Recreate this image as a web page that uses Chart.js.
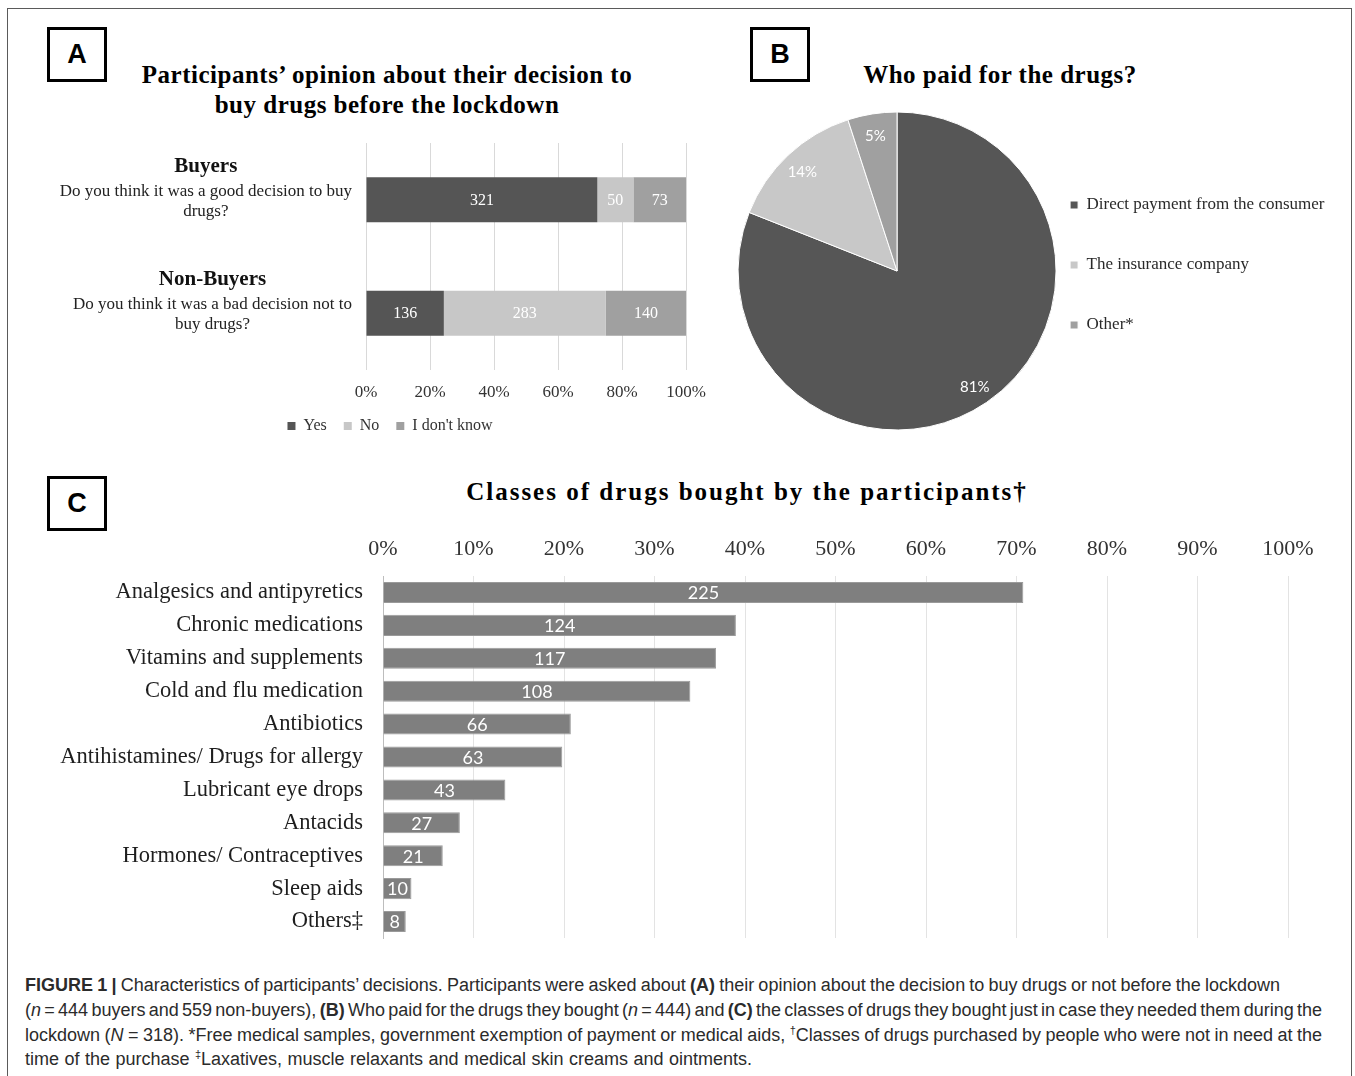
<!DOCTYPE html>
<html>
<head>
<meta charset="utf-8">
<script src="https://cdn.jsdelivr.net/npm/chart.js@4.4.1/dist/chart.umd.min.js"></script>
<style>
html,body{margin:0;padding:0;background:#fff;}
body{width:1355px;height:1076px;position:relative;overflow:hidden;font-family:"Liberation Serif","Times New Roman",serif;}
.frame{position:absolute;left:7px;top:8px;width:1345px;height:1200px;border:1px solid #5a5a5a;box-sizing:border-box;}
.box{position:absolute;width:60px;height:55px;border:3px solid #000;box-sizing:border-box;font:bold 27px "Liberation Sans",Arial,sans-serif;display:flex;align-items:center;justify-content:center;color:#000;}
.title{position:absolute;font-weight:bold;font-size:25px;text-align:center;color:#000;line-height:30px;white-space:nowrap;}
.wrap{position:absolute;}
.cap{position:absolute;left:25px;font:18px "Liberation Sans",Arial,sans-serif;color:#2b2b2b;white-space:nowrap;line-height:24px;}
.cap span.in{display:inline-block;}
sup{font-size:11px;line-height:0;vertical-align:7px;}
</style>
</head>
<body>
<div class="frame"></div>

<div class="box" style="left:47px;top:27px;">A</div>
<div class="box" style="left:750px;top:27px;">B</div>
<div class="box" style="left:47px;top:476px;">C</div>

<div class="title" style="left:137px;width:500px;top:60px;letter-spacing:0.5px;">Participants’ opinion about their decision to<br>buy drugs before the lockdown</div>
<div class="title" style="left:850px;width:300px;top:60px;letter-spacing:0.5px;">Who paid for the drugs?</div>
<div class="title" style="left:447px;width:600px;top:477px;letter-spacing:2px;">Classes of drugs bought by the participants†</div>

<div class="wrap" style="left:0;top:130px;width:720px;height:320px;"><canvas id="cA" width="720" height="320"></canvas></div>
<div class="wrap" style="left:720px;top:100px;width:635px;height:345px;"><canvas id="cB" width="635" height="345"></canvas></div>
<div class="wrap" style="left:0;top:520px;width:1355px;height:430px;"><canvas id="cC" width="1355" height="430"></canvas></div>

<div class="cap" style="top:973px;"><span class="in just" data-w="1255"><b>FIGURE 1 |</b> Characteristics of participants’ decisions. Participants were asked about <b>(A)</b> their opinion about the decision to buy drugs or not before the lockdown</span></div>
<div class="cap" style="top:998px;"><span class="in just" data-w="1297">(<i>n</i> = 444 buyers and 559 non-buyers), <b>(B)</b> Who paid for the drugs they bought (<i>n</i> = 444) and <b>(C)</b> the classes of drugs they bought just in case they needed them during the</span></div>
<div class="cap" style="top:1023px;"><span class="in just" data-w="1297">lockdown (<i>N</i> = 318). *Free medical samples, government exemption of payment or medical aids, <sup>†</sup>Classes of drugs purchased by people who were not in need at the</span></div>
<div class="cap" style="top:1047px;"><span class="in just" data-w="727">time of the purchase <sup>‡</sup>Laxatives, muscle relaxants and medical skin creams and ointments.</span></div>

<script>
// ---------- DATA ----------
// Panel A
const aCategories = ['Buyers', 'Non-Buyers'];
const aQuestions = [
  ['Do you think it was a good decision to buy', 'drugs?'],
  ['Do you think it was a bad decision not to', 'buy drugs?']
];
const aSeriesNames = ['Yes', 'No', "I don't know"];
const aYes = [321, 136];
const aNo = [50, 283];
const aDontKnow = [73, 140];
const aTickLabels = ['0%', '20%', '40%', '60%', '80%', '100%'];

// Panel B
const bLabels = ['Direct payment from the consumer', 'The insurance company', 'Other*'];
const bPercents = [81, 14, 5];

// Panel C
const cCategories = ['Analgesics and antipyretics', 'Chronic medications', 'Vitamins and supplements',
  'Cold and flu medication', 'Antibiotics', 'Antihistamines/ Drugs for allergy', 'Lubricant eye drops',
  'Antacids', 'Hormones/ Contraceptives', 'Sleep aids', 'Others‡'];
const cCounts = [225, 124, 117, 108, 66, 63, 43, 27, 21, 10, 8];
const cTotal = 318;
const cTickLabels = ['0%', '10%', '20%', '30%', '40%', '50%', '60%', '70%', '80%', '90%', '100%'];

// ---------- STYLE ----------
const SERIF = '"Liberation Serif", "Times New Roman", serif';
const SANS2 = 'Lato, "Open Sans", sans-serif';
const colYes = '#555555', colNo = '#c7c7c7', colDK = '#a0a0a0';

function noPad(s) { s.paddingTop = 0; s.paddingBottom = 0; s.paddingLeft = 0; s.paddingRight = 0; }

// ---------- PLUGINS ----------
const barLabels = {
  id: 'barLabels',
  afterDatasetsDraw(chart, args, opts) {
    const ctx = chart.ctx;
    ctx.save();
    ctx.font = opts.font;
    ctx.fillStyle = opts.color;
    ctx.textAlign = 'center';
    ctx.textBaseline = 'middle';
    chart.data.datasets.forEach((ds, di) => {
      const meta = chart.getDatasetMeta(di);
      meta.data.forEach((el, i) => {
        const p = el.getProps(['x', 'y', 'base'], true);
        ctx.fillText(String(ds.counts[i]), (p.x + p.base) / 2, p.y + (opts.dy || 0));
      });
    });
    ctx.restore();
  }
};

const aCatLabels = {
  id: 'aCatLabels',
  afterDraw(chart) {
    const ctx = chart.ctx;
    const ys = chart.scales.y;
    const right = chart.chartArea.left - 14;
    ctx.save();
    ctx.textAlign = 'center';
    ctx.textBaseline = 'middle';
    aCategories.forEach((cat, i) => {
      const cy = ys.getPixelForValue(i);
      ctx.font = '17px ' + SERIF;
      let maxW = 0;
      aQuestions[i].forEach(t => { maxW = Math.max(maxW, ctx.measureText(t).width); });
      ctx.font = 'bold 21px ' + SERIF;
      maxW = Math.max(maxW, ctx.measureText(cat).width);
      const cx = right - maxW / 2;
      ctx.fillStyle = '#111';
      ctx.fillText(cat, cx, cy - 33.5);
      ctx.font = '17px ' + SERIF;
      ctx.fillStyle = '#222';
      aQuestions[i].forEach((t, k) => ctx.fillText(t, cx, cy - 8.5 + k * 20));
    });
    ctx.restore();
  }
};

const pieLabels = {
  id: 'pieLabels',
  afterDatasetsDraw(chart, args, opts) {
    const ctx = chart.ctx;
    const meta = chart.getDatasetMeta(0);
    ctx.save();
    ctx.font = opts.font;
    ctx.fillStyle = opts.color;
    ctx.textAlign = 'center';
    ctx.textBaseline = 'middle';
    meta.data.forEach((arc, i) => {
      const p = arc.getProps(['x', 'y', 'startAngle', 'endAngle', 'outerRadius'], true);
      const a = (p.startAngle + p.endAngle) / 2;
      const r = p.outerRadius * opts.pos;
      ctx.fillText(chart.data.datasets[0].data[i] + '%', p.x + Math.cos(a) * r, p.y + Math.sin(a) * r + 2);
    });
    ctx.restore();
  }
};

// ---------- CHART A ----------
const aTotals = aYes.map((v, i) => v + aNo[i] + aDontKnow[i]);
const aRaw = [aYes, aNo, aDontKnow];
const aColors = [colYes, colNo, colDK];
new Chart(document.getElementById('cA'), {
  type: 'bar',
  data: {
    labels: aCategories,
    datasets: aRaw.map((arr, k) => ({
      label: aSeriesNames[k],
      data: arr.map((v, i) => v / aTotals[i] * 100),
      counts: arr,
      backgroundColor: aColors[k],
      borderWidth: 0,
      barPercentage: 0.395,
      categoryPercentage: 1
    }))
  },
  options: {
    indexAxis: 'y',
    responsive: false,
    animation: false,
    layout: { padding: { left: 94, right: 34, top: 13, bottom: 6 } },
    scales: {
      x: {
        stacked: true, min: 0, max: 100,
        ticks: { stepSize: 20, callback: (v, i) => aTickLabels[i], padding: 12, color: '#333', font: { family: SERIF, size: 17 } },
        grid: { color: '#d9d9d9', drawTicks: false },
        border: { display: false },
        afterFit: s => { s.height = 31; noPad(s); }
      },
      y: {
        stacked: true,
        grid: { display: false, drawTicks: false },
        border: { display: false },
        ticks: { display: false },
        afterFit: s => { s.width = 272; noPad(s); }
      }
    },
    plugins: {
      legend: {
        position: 'bottom',
        labels: { boxWidth: 8, boxHeight: 8, padding: 17, color: '#333', font: { family: SERIF, size: 16 } }
      },
      tooltip: { enabled: false },
      barLabels: { font: '16px ' + SERIF, color: '#ffffff', dy: 1 }
    }
  },
  plugins: [barLabels, aCatLabels]
});

// ---------- CHART B ----------
new Chart(document.getElementById('cB'), {
  type: 'pie',
  data: {
    labels: bLabels,
    datasets: [{
      data: bPercents,
      backgroundColor: ['#565656', '#c8c8c8', '#a0a0a0'],
      borderColor: '#ffffff',
      borderWidth: 1,
      radius: 159,
      clip: false
    }]
  },
  options: {
    responsive: false,
    animation: false,
    layout: { padding: { left: 47, right: 20.5, top: 53.5, bottom: 56.5 } },
    plugins: {
      legend: {
        position: 'right',
        align: 'start',
        maxWidth: 330,
        labels: { boxWidth: 8, boxHeight: 8, padding: 43, color: '#2a2a2a', font: { family: SERIF, size: 17 } }
      },
      tooltip: { enabled: false },
      pieLabels: { font: '15px ' + SANS2, color: '#ffffff', pos: 0.87 }
    }
  },
  plugins: [pieLabels]
});

// ---------- CHART C ----------
new Chart(document.getElementById('cC'), {
  type: 'bar',
  data: {
    labels: cCategories,
    datasets: [{
      label: 'Classes of drugs',
      data: cCounts.map(v => v / cTotal * 100),
      counts: cCounts,
      backgroundColor: '#7f7f7f',
      borderColor: '#9a9a9a',
      borderWidth: 1,
      barPercentage: 0.64,
      categoryPercentage: 1
    }]
  },
  options: {
    indexAxis: 'y',
    responsive: false,
    animation: false,
    layout: { padding: { left: 0, right: 67, top: 0, bottom: 12 } },
    scales: {
      x: {
        position: 'top', min: 0, max: 100,
        ticks: { stepSize: 10, callback: (v, i) => cTickLabels[i], padding: 14, color: '#333', font: { family: SERIF, size: 22 } },
        grid: { color: '#e3e3e3', drawTicks: false },
        border: { display: false },
        afterFit: s => { s.height = 56; noPad(s); }
      },
      y: {
        grid: { display: false, drawTicks: false },
        border: { display: true, color: '#bdbdbd', width: 1 },
        ticks: { padding: 20, color: '#1e1e1e', font: { family: SERIF, size: 22.5 } },
        afterFit: s => { s.width = 383; noPad(s); }
      }
    },
    plugins: {
      legend: { display: false },
      tooltip: { enabled: false },
      barLabels: { font: '18px ' + SANS2, color: '#ffffff', dy: 1 }
    }
  },
  plugins: [barLabels]
});

// ---------- caption line fitting ----------
document.querySelectorAll('.just').forEach(el => {
  const target = +el.dataset.w;
  const nat = el.getBoundingClientRect().width;
  const spaces = (el.textContent.match(/ /g) || []).length;
  if (spaces) el.style.wordSpacing = ((target - nat) / spaces) + 'px';
});
</script>
</body>
</html>
